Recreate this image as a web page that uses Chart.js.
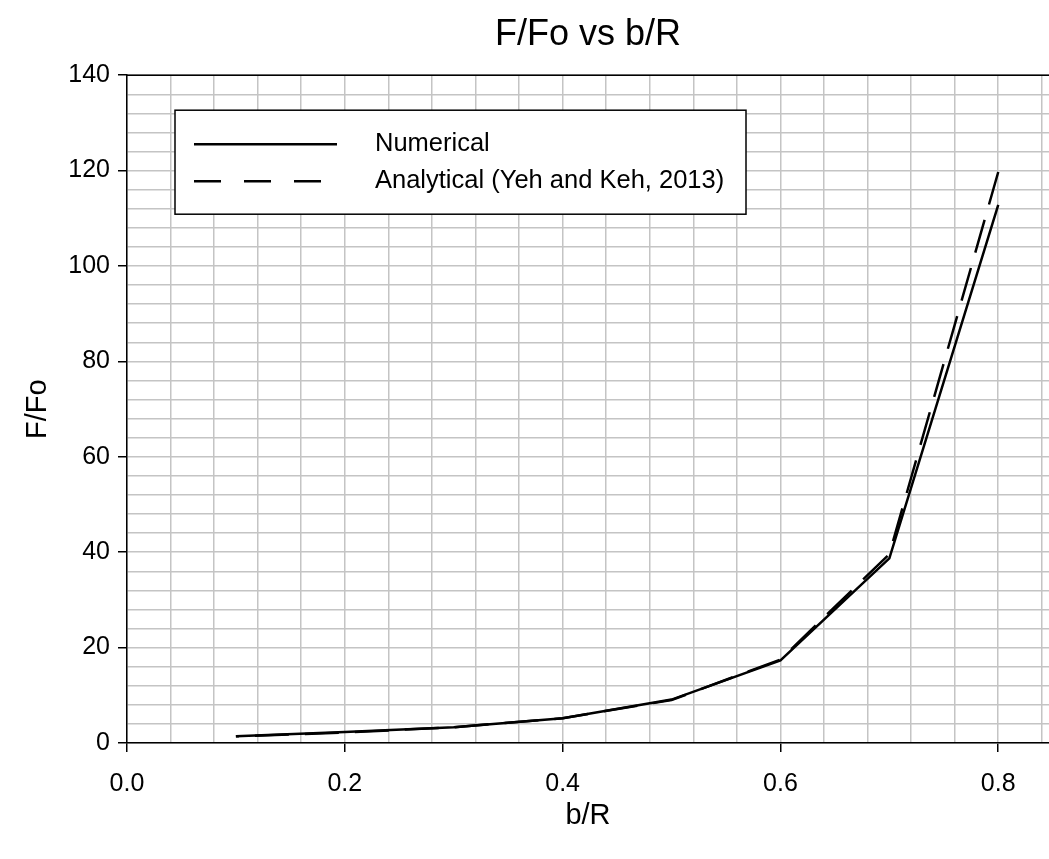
<!DOCTYPE html>
<html>
<head>
<meta charset="utf-8">
<script src="https://cdn.jsdelivr.net/npm/chart.js@4/dist/chart.umd.min.js"></script>
<style>
  html, body { margin: 0; padding: 0; background: #ffffff; }
  canvas { display: block; }
</style>
</head>
<body>
<canvas id="chart" width="1049" height="859"></canvas>
<script>
// values
const bR = [0.1, 0.2, 0.3, 0.4, 0.5, 0.6, 0.7, 0.8];
const numerical = [1.4, 2.3, 3.3, 5.2, 9.1, 17.3, 38.7, 112.8];
const analytical = [1.4, 2.2, 3.3, 5.2, 9.0, 17.5, 39.6, 119.7];

const seriesNames = ["Numerical", "Analytical (Yeh and Keh, 2013)"];
const xMajor = 0.2;
const yMajor = 20;

const FONT = "'Liberation Sans', Arial, sans-serif";

const isMajor = (v, step) => Math.abs(v / step - Math.round(v / step)) < 1e-6;

// black frame line along the top of the plot + boxed legend
const framePlugin = {
  id: "frame",
  beforeDatasetsDraw(chart) {
    const { ctx, chartArea } = chart;
    ctx.save();
    ctx.strokeStyle = "#000000";
    ctx.lineWidth = 1.5;
    ctx.beginPath();
    ctx.moveTo(chartArea.left, chartArea.top);
    ctx.lineTo(chartArea.right, chartArea.top);
    ctx.stroke();
    ctx.restore();
  },
  afterDatasetsDraw(chart) {
    const { ctx, chartArea } = chart;
    const left = chartArea.left + 48;
    const top = chartArea.top + 35;
    const w = 571;
    const h = 104;
    ctx.save();
    ctx.fillStyle = "#ffffff";
    ctx.fillRect(left, top, w, h);
    ctx.strokeStyle = "#000000";
    ctx.lineWidth = 1.5;
    ctx.strokeRect(left, top, w, h);

    chart.data.datasets.forEach((ds, i) => {
      const y = top + 34 + i * 37;
      const dashed = !!ds.borderDash;
      ctx.beginPath();
      ctx.setLineDash(dashed ? [27, 23] : []);
      ctx.lineWidth = ds.borderWidth;
      ctx.strokeStyle = ds.borderColor;
      ctx.moveTo(left + 19, y);
      ctx.lineTo(left + (dashed ? 148 : 162), y);
      ctx.stroke();
      ctx.setLineDash([]);
      ctx.fillStyle = "#000000";
      ctx.font = "25.5px " + FONT;
      ctx.textBaseline = "middle";
      ctx.textAlign = "left";
      ctx.fillText(ds.label, left + 200, y);
    });
    ctx.restore();
  },
};

new Chart(document.getElementById("chart"), {
  type: "line",
  data: {
    labels: bR,
    datasets: [
      {
        label: seriesNames[0],
        data: bR.map((x, i) => ({ x: x, y: numerical[i] })),
        borderColor: "#000000",
        borderWidth: 2.5,
        pointRadius: 0,
        tension: 0,
      },
      {
        label: seriesNames[1],
        data: bR.map((x, i) => ({ x: x, y: analytical[i] })),
        borderColor: "#000000",
        borderWidth: 2.5,
        borderDash: [34, 16],
        borderDashOffset: 31,
        pointRadius: 0,
        tension: 0,
      },
    ],
  },
  options: {
    responsive: false,
    animation: false,
    devicePixelRatio: 1,
    layout: { padding: 0, autoPadding: false },
    plugins: {
      legend: { display: false },
      tooltip: { enabled: false },
      title: {
        display: true,
        text: "F/Fo vs b/R",
        fullSize: false,
        color: "#000000",
        font: { family: FONT, size: 36, weight: "normal" },
        padding: { top: 13, bottom: 19 },
      },
    },
    scales: {
      x: {
        type: "linear",
        min: 0,
        max: 0.8466,
        afterFit: (s) => {
          s.height = 116;
          s.paddingLeft = 0;
          s.paddingRight = 0;
        },
        border: { display: true, color: "#000000", width: 1.5 },
        grid: {
          color: "#c4c4c4",
          lineWidth: 1.5,
          tickLength: 9,
          tickColor: (c) => (c.tick && isMajor(c.tick.value, xMajor) ? "#000000" : "rgba(0,0,0,0)"),
        },
        ticks: {
          stepSize: 0.04,
          includeBounds: false,
          autoSkip: false,
          maxRotation: 0,
          padding: 17,
          color: "#000000",
          font: { family: FONT, size: 25 },
          callback: (v) => (isMajor(v, xMajor) ? v.toFixed(1) : ""),
        },
        title: {
          display: true,
          text: "b/R",
          color: "#000000",
          font: { family: FONT, size: 29 },
          padding: { top: 0, bottom: 26 },
        },
      },
      y: {
        min: 0,
        max: 140,
        afterFit: (s) => {
          s.width = 127;
          s.paddingTop = 0;
          s.paddingBottom = 0;
        },
        border: { display: true, color: "#000000", width: 1.5 },
        grid: {
          color: "#c4c4c4",
          lineWidth: 1.5,
          tickLength: 9,
          tickColor: (c) => (c.tick && isMajor(c.tick.value, yMajor) ? "#000000" : "rgba(0,0,0,0)"),
        },
        ticks: {
          stepSize: 4,
          autoSkip: false,
          padding: 8,
          color: "#000000",
          font: { family: FONT, size: 25 },
          callback: (v) => (isMajor(v, yMajor) ? String(v) : ""),
        },
        title: {
          display: true,
          text: "F/Fo",
          color: "#000000",
          font: { family: FONT, size: 29 },
          padding: { top: 21, bottom: 0 },
        },
      },
    },
  },
  plugins: [framePlugin],
});
</script>
</body>
</html>
